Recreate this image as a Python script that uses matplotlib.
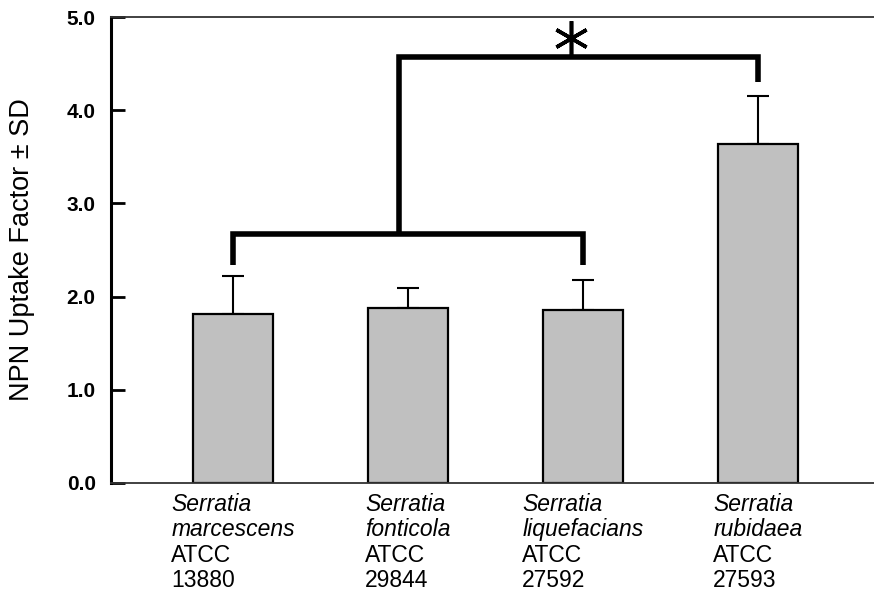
import numpy as np
import matplotlib
matplotlib.use("Agg")
import matplotlib.pyplot as plt
from matplotlib.transforms import ScaledTranslation

plt.rcParams['font.family'] = ['Liberation Sans', 'DejaVu Sans']

genus = ["Serratia", "Serratia", "Serratia", "Serratia"]
species = ["marcescens", "fonticola", "liquefacians", "rubidaea"]
strains = ["13880", "29844", "27592", "27593"]
uptake = [1.81, 1.88, 1.86, 3.64]
sd = [0.41, 0.21, 0.32, 0.51]

# significance bracket levels (data units)
low_bar_y, low_leg_y = 2.67, 2.34
high_bar_y, high_leg_y = 4.57, 4.30
stem_x = 0.95
star_x, star_y = 1.93, 4.77

fig = plt.figure(figsize=(8.74, 5.93), dpi=100)
ax = fig.add_axes([0.127, 0.1855, 0.873, 0.7858])

x = np.arange(len(uptake))
ax.errorbar(x, uptake, yerr=[np.zeros(len(sd)), sd], fmt='none', ecolor='black',
            elinewidth=1.5, capsize=8, capthick=1.5, zorder=1)
ax.bar(x, uptake, width=0.457, color='#c0c0c0', edgecolor='black', linewidth=1.6, zorder=2)

bk = dict(color='black', lw=4, solid_capstyle='butt', solid_joinstyle='miter', zorder=3)
ax.plot([x[0], x[0], x[2], x[2]], [low_leg_y, low_bar_y, low_bar_y, low_leg_y], **bk)
ax.plot([stem_x, stem_x, x[3], x[3]], [low_bar_y, high_bar_y, high_bar_y, high_leg_y], **bk)
ax.plot([star_x], [star_y], marker=(6, 2, 0), markersize=25, markeredgewidth=2.6,
        color='black', zorder=3)

# category labels: two italic lines + two plain lines, left-aligned block centred on bar
ax.set_xticks(x)
ax.set_xticklabels([])
ax.tick_params(axis='x', length=0)
renderer = fig.canvas.get_renderer()
base = ax.get_xaxis_transform()
step = 25.5
for i in range(len(x)):
    lines = [(genus[i], 'italic'), (species[i], 'italic'), ("ATCC", 'normal'), (strains[i], 'normal')]
    texts = [ax.text(x[i], 0, s, transform=base, ha='left', va='baseline',
                     fontsize=16.5, style=st) for s, st in lines]
    w = max(t.get_window_extent(renderer).width for t in texts)
    for j, t in enumerate(texts):
        t.set_transform(base + ScaledTranslation(-w / 2 / fig.dpi, -(28 + j * step) / fig.dpi,
                                                 fig.dpi_scale_trans))

ax.set_xlim(-0.697, 3.663)
ax.set_ylim(0, 5)
ticks = np.arange(0, 5.1, 1.0)
ax.set_yticks(ticks)
ax.set_yticklabels([f"{v:.1f}" for v in ticks], fontsize=15, fontweight='bold')
ax.tick_params(axis='y', direction='in', length=10, width=2, pad=11)

ax.set_ylabel("NPN Uptake Factor ± SD", fontsize=19.5, va='center')
ax.yaxis.set_label_coords(-0.116, 0.5)

ax.spines['right'].set_visible(False)
ax.spines['left'].set_linewidth(2.2)
ax.spines['top'].set_linewidth(1.3)
ax.spines['top'].set_color('#333333')
ax.spines['bottom'].set_linewidth(1.3)
ax.spines['bottom'].set_color('#333333')

fig.savefig("out.png", dpi=100)
